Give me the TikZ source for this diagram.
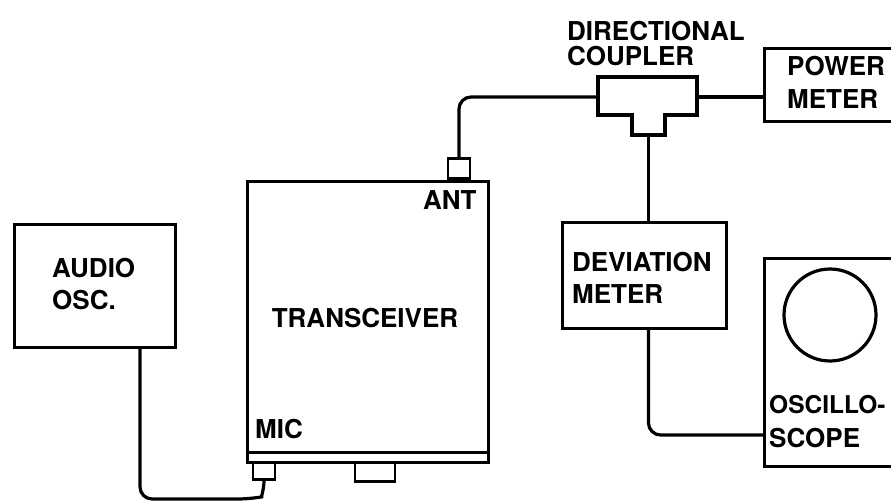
\documentclass[tikz,border=0pt]{standalone}
\usepackage{fontspec}
\setmainfont{TeX Gyre Heros}
\begin{document}
\begin{tikzpicture}[x=1pt,y=-1pt,
  box/.style={draw, line width=3.2pt, inner sep=0pt, anchor=north west},
  jack/.style={draw, line width=2.8pt, inner sep=0pt},
  lbl/.style={font=\fontsize{26}{30}\selectfont\bfseries, inner sep=0pt, anchor=base west},
  wire/.style={draw, line width=3.2pt, rounded corners=12pt}]
\useasboundingbox (0,0) rectangle (891,502);
\clip (0,0) rectangle (891,502);

% boxes
\node[box, minimum width=161pt, minimum height=123pt] (audio) at (13,223) {};
\node[box, minimum width=241pt, minimum height=281pt] (trx) at (246,180) {};
\draw[line width=2.8pt] ([yshift=12pt]trx.south west) -- ([yshift=12pt]trx.south east);
\node[jack, minimum width=22pt, minimum height=17pt, anchor=north] (mic) at (264,461) {};
\node[jack, minimum width=40pt, minimum height=19pt, anchor=north] (foot) at (375,461) {};
\node[jack, minimum width=22pt, minimum height=20pt, anchor=south] (ant) at (459,180) {};
\node[box, minimum width=200pt, minimum height=73pt] (power) at (763,47) {};
\node[box, minimum width=164pt, minimum height=106pt] (dev) at (561,221) {};
\node[box, minimum width=200pt, minimum height=208pt] (scope) at (763,257) {};
\node[draw, circle, line width=3.2pt, minimum size=92pt, inner sep=0pt] (screen) at (830,315) {};

% directional coupler
\draw[line width=3.2pt] (598,77) -- (697,77) -- (697,115) -- (665,115) -- (665,135)
  -- (632,135) -- (632,115) -- (598,115) -- cycle;
\coordinate (coupW) at (598,97);
\coordinate (coupE) at (697,97);
\coordinate (coupS) at (648.5,135);
\coordinate (acol) at (140,0);
\coordinate (scopein) at (763,435);
\coordinate (mbend) at (250,499);

% connectors
\draw[wire] (ant.north) |- (coupW);
\draw[wire] (coupE) -- (power.west |- coupE);
\draw[wire] (coupS) -- (coupS |- dev.north);
\draw[wire] (dev.south -| coupS) |- (scopein);
\draw[wire] (audio.south -| acol) |- (mbend) .. controls (261,497) and (264,489) .. (mic.south);

% labels
\node[lbl] (t1) at (52,278) {AUDIO};
\node[lbl] (t2) at (52,310) {OSC.};
\node[lbl, anchor=base] (t3) at (365,328) {TRANSCEIVER};
\node[lbl] (t4) at (423,210) {ANT};
\node[lbl] (t5) at (255,438) {MIC};
\node[lbl] (t6) at (567,41) {DIRECTIONAL};
\node[lbl] (t7) at (567,66) {COUPLER};
\node[lbl] (t8) at (787,76) {POWER};
\node[lbl] (t9) at (787,109) {METER};
\node[lbl] (t10) at (572,272) {DEVIATION};
\node[lbl] (t11) at (572,304) {METER};
\node[lbl, font=\fontsize{24.5}{30}\selectfont\bfseries] (t12) at (769,413) {OSCILLO-};
\node[lbl] (t13) at (769,447) {SCOPE};
\end{tikzpicture}
\end{document}
